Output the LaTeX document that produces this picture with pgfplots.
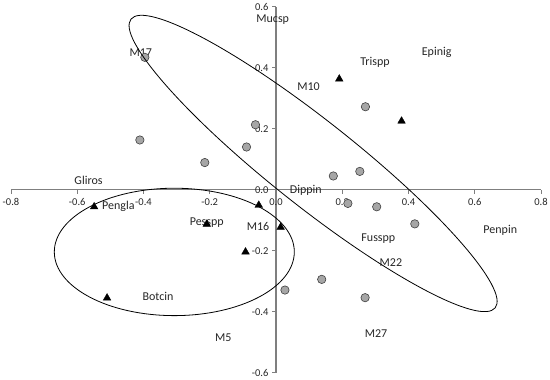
\documentclass[border=0pt]{standalone}
\usepackage{pgfplots}
\pgfplotsset{compat=1.18}
\usepackage{fontspec}
\setmainfont{Carlito}
\definecolor{axgray}{HTML}{7F7F7F}
\definecolor{ptgray}{HTML}{A6A6A6}
\definecolor{txt}{HTML}{262626}
\begin{document}
\begin{tikzpicture}
\begin{axis}[
  scale only axis, width=530pt, height=366pt,
  xmin=-0.8, xmax=0.8, ymin=-0.6, ymax=0.6,
  axis lines=middle,
  axis line style={-},
  x axis line style={draw=axgray, line width=0.9pt},
  y axis line style={draw=axgray, line width=1.6pt},
  xtick={-0.8,-0.6,-0.4,-0.2,0,0.2,0.4,0.6,0.8},
  ytick={-0.6,-0.4,-0.2,0,0.2,0.4,0.6},
  hide obscured x ticks=false, hide obscured y ticks=false,
  tick align=outside,
  major tick length=4pt,
  tick style={draw=axgray, line width=0.8pt},
  xticklabel style={font=\fontsize{10.5}{12}\selectfont, text=txt, yshift=-1pt},
  yticklabel style={font=\fontsize{10.5}{12}\selectfont, text=txt},
  /pgf/number format/.cd, fixed, fixed zerofill, precision=1, assume math mode=true,
  /pgfplots/.cd,
  clip=false,
]
\addplot[only marks, mark=*, mark size=4.2pt, mark options={fill=ptgray, draw=black!75, line width=0.6pt}] coordinates {
(-0.396,0.434) (-0.411,0.163) (-0.215,0.089) (-0.089,0.140) (-0.062,0.213)
(0.270,0.272) (0.173,0.045) (0.253,0.060) (0.217,-0.045) (0.304,-0.056)
(0.419,-0.112) (0.138,-0.294) (0.027,-0.329) (0.269,-0.354)
};
\addplot[only marks, mark=triangle*, mark size=4.4pt, mark options={fill=black, draw=black}] coordinates {
(0.191,0.363) (0.379,0.225) (-0.549,-0.056) (-0.209,-0.113) (-0.052,-0.051)
(-0.092,-0.204) (-0.510,-0.355) (0.014,-0.123)
};
\begin{scope}[every node/.style={font=\fontsize{12}{14}\selectfont, text=txt, inner sep=0pt}]
\node at (axis cs:-0.010,0.557) {Mucsp};
\node at (axis cs:-0.408,0.448) {M17};
\node at (axis cs:0.299,0.416) {Trispp};
\node at (axis cs:0.485,0.450) {Epinig};
\node at (axis cs:0.098,0.338) {M10};
\node at (axis cs:-0.566,0.031) {Gliros};
\node at (axis cs:0.090,-0.003) {Dippin};
\node at (axis cs:-0.476,-0.056) {Pengla};
\node at (axis cs:-0.209,-0.107) {Pesspp};
\node at (axis cs:-0.054,-0.121) {M16};
\node at (axis cs:-0.356,-0.349) {Botcin};
\node at (axis cs:-0.159,-0.484) {M5};
\node at (axis cs:0.309,-0.159) {Fusspp};
\node at (axis cs:0.347,-0.239) {M22};
\node at (axis cs:0.677,-0.132) {Penpin};
\node at (axis cs:0.302,-0.473) {M27};
\end{scope}
\coordinate (bl) at (axis cs:-0.8,-0.6);
\coordinate (e1) at (axis cs:-0.307,-0.204);
\coordinate (e2) at (axis cs:0.112,0.086);
\end{axis}
\draw[black, line width=0.8pt] (e1) ellipse [x radius=120pt, y radius=63.7pt];
\draw[black, line width=0.8pt] (e2) ellipse [x radius=232.4pt, y radius=42.5pt, rotate=-38.4];
\pgfresetboundingbox
\path ([shift={(-11pt,-7.3pt)}]bl) rectangle ([shift={(539pt,372.7pt)}]bl);
\end{tikzpicture}
\end{document}
